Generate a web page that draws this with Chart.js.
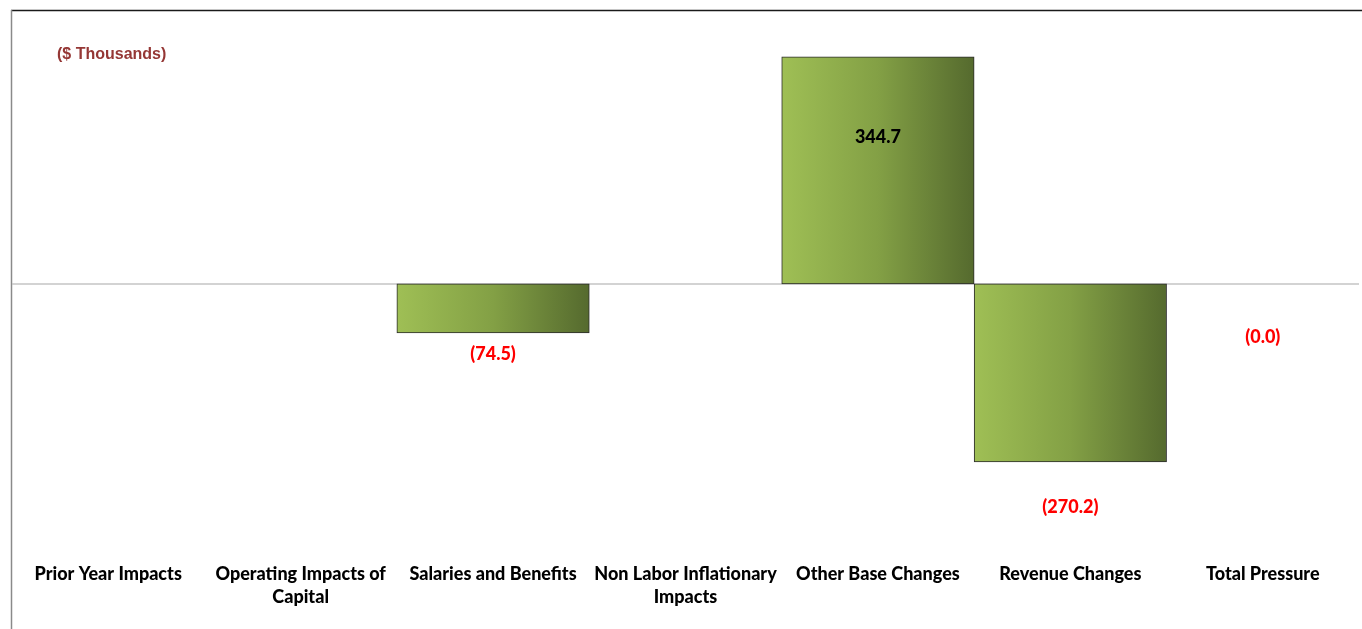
<!DOCTYPE html>
<html>
<head>
<meta charset="utf-8">
<script src="https://cdn.jsdelivr.net/npm/chart.js@4.4.1/dist/chart.umd.min.js"></script>
<style>
html,body{margin:0;padding:0;background:#fff;}
#wrap{position:relative;width:1362px;height:629px;}
</style>
</head>
<body>
<div id="wrap"><canvas id="c" width="1362" height="629"></canvas></div>
<script>
const categories = [
  'Prior Year Impacts',
  ['Operating Impacts of', 'Capital'],
  'Salaries and Benefits',
  ['Non Labor Inflationary', 'Impacts'],
  'Other Base Changes',
  'Revenue Changes',
  'Total Pressure'
];
const values = [0, 0, -74.5, 0, 344.7, -270.2, 0];
const valueLabels = ['', '', '(74.5)', '', '344.7', '(270.2)', '(0.0)'];
// where each value label sits, in data units
const labelAnchors = [null, null, -106, null, 223.5, -339.5, -81.5];
const unitsLabel = '($ Thousands)';

const gradientFill = (ctx) => {
  const chart = ctx.chart;
  const xs = chart.scales && chart.scales.x;
  if (!chart.chartArea || !xs) return '#8aa848';
  const cx = xs.getPixelForValue(ctx.dataIndex);
  const half = (xs.width / categories.length) / 2;
  const g = chart.ctx.createLinearGradient(cx - half, 0, cx + half, 0);
  g.addColorStop(0, '#9fbf55');
  g.addColorStop(0.5, '#83a045');
  g.addColorStop(1, '#556a2e');
  return g;
};

const decor = {
  id: 'decor',
  beforeDraw(chart) {
    const c = chart.ctx;
    c.save();
    c.strokeStyle = '#1a1a1a';
    c.lineWidth = 1.5;
    c.beginPath(); c.moveTo(11, 10.5); c.lineTo(1362, 10.5); c.stroke();
    c.strokeStyle = '#8a8a8a';
    c.lineWidth = 1.5;
    c.beginPath(); c.moveTo(11.5, 10); c.lineTo(11.5, 629); c.stroke();
    c.fillStyle = '#953735';
    c.font = 'bold 16px "Liberation Sans", Arial, sans-serif';
    c.textBaseline = 'middle';
    c.textAlign = 'left';
    c.fillText(unitsLabel, 57, 55);
    c.restore();
  },
  beforeDatasetsDraw(chart) {
    const c = chart.ctx, a = chart.chartArea, y = chart.scales.y.getPixelForValue(0);
    c.save();
    c.strokeStyle = '#c4c4c4';
    c.lineWidth = 1.5;
    c.beginPath(); c.moveTo(a.left, y); c.lineTo(a.right, y); c.stroke();
    c.restore();
  },
  afterDatasetsDraw(chart) {
    const c = chart.ctx, xs = chart.scales.x, ys = chart.scales.y;
    c.save();
    c.font = '900 18px Lato, "Open Sans", sans-serif';
    c.textAlign = 'center';
    c.textBaseline = 'middle';
    valueLabels.forEach((t, i) => {
      if (!t || labelAnchors[i] === null) return;
      c.fillStyle = values[i] > 0 ? '#000000' : '#ff0000';
      c.fillText(t, xs.getPixelForValue(i), ys.getPixelForValue(labelAnchors[i]));
    });
    c.restore();
  }
};

new Chart(document.getElementById('c'), {
  type: 'bar',
  data: {
    labels: categories,
    datasets: [{
      data: values,
      backgroundColor: gradientFill,
      borderColor: '#2b2b2b',
      borderWidth: 1,
      borderSkipped: false,
      barPercentage: 1,
      categoryPercentage: 1
    }]
  },
  options: {
    responsive: false,
    animation: false,
    devicePixelRatio: 1,
    layout: { padding: { left: 12, right: 3, top: 10, bottom: 0 } },
    plugins: { legend: { display: false }, tooltip: { enabled: false } },
    scales: {
      x: {
        grid: { display: false, drawTicks: false },
        border: { display: false },
        afterFit(scale) { scale.height = 79; },
        ticks: {
          autoSkip: false, maxRotation: 0, minRotation: 0,
          padding: 13,
          color: '#000',
          font: { family: 'Lato, "Open Sans", sans-serif', size: 18, weight: '900', lineHeight: 1.28 }
        }
      },
      y: { display: false, min: -404, max: 416 }
    }
  },
  plugins: [decor]
});
</script>
</body>
</html>
